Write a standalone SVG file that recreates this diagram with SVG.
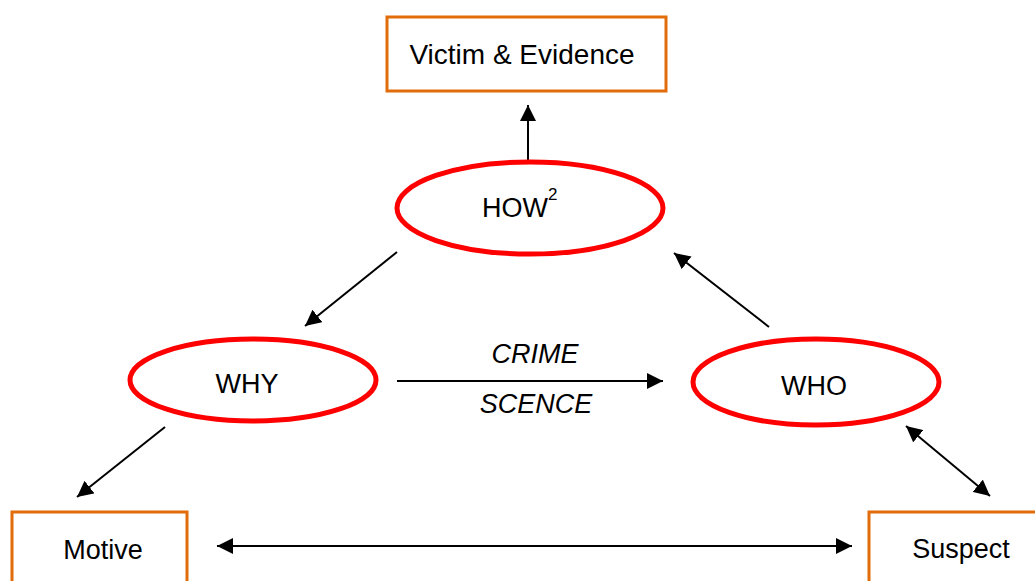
<svg xmlns="http://www.w3.org/2000/svg" width="1035" height="581" viewBox="0 0 1035 581">
<style>
.box{fill:#fff;stroke:#E36C0A;stroke-width:3}
.ell{fill:#fff;stroke:#FF0000;stroke-width:5}
.lbl{font-family:"Liberation Sans",Arial,sans-serif;font-size:27px;fill:#000}
.it{font-style:italic}
.ln{stroke:#000;stroke-width:2;fill:none}
</style>
<defs>
<marker id="ah" viewBox="0 0 16 16" refX="16" refY="8" markerWidth="16" markerHeight="16" markerUnits="userSpaceOnUse" orient="auto-start-reverse">
<path d="M0,0 L16,8 L0,16 z" fill="#000"/>
</marker>
</defs>
<rect width="1035" height="581" fill="#fff"/>
<g id="connectors">
<line class="ln" x1="528" y1="162" x2="528" y2="105" marker-end="url(#ah)"/>
<line class="ln" x1="397" y1="252" x2="305" y2="326" marker-end="url(#ah)"/>
<line class="ln" x1="769" y1="327" x2="674" y2="253" marker-end="url(#ah)"/>
<line class="ln" x1="397" y1="381" x2="663" y2="381" marker-end="url(#ah)"/>
<line class="ln" x1="165" y1="427" x2="77" y2="497" marker-end="url(#ah)"/>
<line class="ln" x1="217" y1="546" x2="852" y2="546" marker-start="url(#ah)" marker-end="url(#ah)"/>
<line class="ln" x1="906" y1="426" x2="990" y2="496" marker-start="url(#ah)" marker-end="url(#ah)"/>
<text class="lbl it" x="535" y="363" text-anchor="middle">CRIME</text>
<text class="lbl it" x="536" y="413" text-anchor="middle">SCENCE</text>
</g>
<g id="victim">
<rect class="box" x="387" y="17" width="279" height="74"/>
<text class="lbl" x="522" y="64" text-anchor="middle" font-size="28" style="font-size:28px">Victim &amp; Evidence</text>
</g>
<g id="how">
<ellipse class="ell" cx="530" cy="208" rx="133" ry="46"/>
<text class="lbl" x="482" y="217">HOW<tspan font-size="17" style="font-size:17px" dy="-17">2</tspan></text>
</g>
<g id="why">
<ellipse class="ell" cx="253" cy="380" rx="123" ry="41"/>
<text class="lbl" x="247" y="393" text-anchor="middle">WHY</text>
</g>
<g id="who">
<ellipse class="ell" cx="816" cy="382" rx="123" ry="43"/>
<text class="lbl" x="814" y="395" text-anchor="middle">WHO</text>
</g>
<g id="motive">
<rect class="box" x="12" y="512" width="175" height="80"/>
<text class="lbl" x="103" y="559" text-anchor="middle">Motive</text>
</g>
<g id="suspect">
<rect class="box" x="869" y="512" width="180" height="80"/>
<text class="lbl" x="961" y="558" text-anchor="middle">Suspect</text>
</g>
</svg>
